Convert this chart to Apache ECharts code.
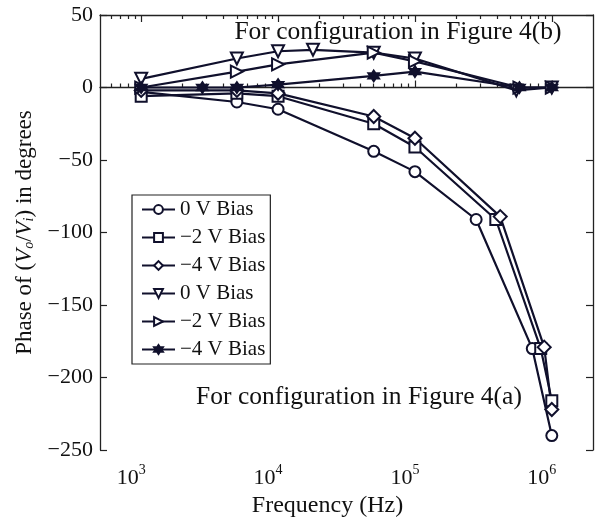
<!DOCTYPE html>
<html>
<head>
<meta charset="utf-8">
<script src="https://cdn.jsdelivr.net/npm/echarts@6/dist/echarts.min.js"></script>
</head>
<body style="margin:0">
<div id="container" style="width:595px;height:523px"></div>
<script>
var ink = '#10102c';
var serif = 'Liberation Serif';

// frequency (Hz) and phase (degrees)
// configuration of Figure 4(a)
var freqA0 = [1e3, 5e3, 1e4, 5e4, 1e5, 2.8e5, 7.2e5, 1e6];
var phaseA0 = [-3, -10, -15, -44, -58, -91, -180, -240];
var freqA2 = [1e3, 5e3, 1e4, 5e4, 1e5, 3.9e5, 8.3e5, 1e6];
var phaseA2 = [-6, -4, -6, -25, -41, -91, -180, -216];
var freqA4 = [1e3, 5e3, 1e4, 5e4, 1e5, 4.2e5, 8.8e5, 1e6];
var phaseA4 = [-2, -2, -4, -20, -35, -89, -179, -222];
// configuration of Figure 4(b)
var freqB0 = [1e3, 5e3, 1e4, 1.8e4, 5e4, 1e5, 5.5e5, 1e6];
var phaseB0 = [6, 20, 25, 26, 24, 20, -2, 0];
var freqB2 = [1e3, 5e3, 1e4, 5e4, 1e5, 5.8e5, 1e6];
var phaseB2 = [0, 11, 16, 24, 18, 0, 0];
var freqB4 = [1e3, 2.8e3, 5e3, 1e4, 5e4, 1e5, 5.8e5, 1e6];
var phaseB4 = [0, 0, 0, 2, 8, 11, 0, 0];

var seriesNames = ['0 V Bias (a)', '\u22122 V Bias (a)', '\u22124 V Bias (a)',
                   '0 V Bias (b)', '\u22122 V Bias (b)', '\u22124 V Bias (b)'];
var decadeExps = [3, 4, 5, 6];

function lg(f) { return Math.log10(f); }
function pts(fs, vs) {
    return fs.map(function (f, i) { return [lg(f), vs[i]]; });
}

var xMin = lg(500), xMax = lg(2e6);
var minors = [];
for (var e = 2; e <= 6; e++) {
    for (var k = 2; k <= 9; k++) {
        var t = lg(k * Math.pow(10, e));
        if (t > xMin + 1e-6 && t < xMax - 1e-6) minors.push(t);
    }
}

var axisLine = { show: true, lineStyle: { color: '#222', width: 1.3 } };

function xAx(pos, ticks, len, labels, line) {
    return {
        type: 'value', position: pos, min: xMin, max: xMax,
        axisLine: line ? axisLine : { show: false },
        splitLine: { show: false },
        axisTick: { show: true, inside: true, length: len, customValues: ticks,
                    lineStyle: { color: '#222', width: 1.2 } },
        axisLabel: labels ? {
            show: true, customValues: decadeExps, margin: 13,
            padding: [0, 20, 0, 0],
            formatter: function (v) { return '{b|10}{s|' + v + '}'; },
            rich: {
                b: { fontFamily: serif, fontSize: 22, color: '#111', lineHeight: 26, verticalAlign: 'bottom' },
                s: { fontFamily: serif, fontSize: 14, color: '#111', lineHeight: 16, verticalAlign: 'top' }
            }
        } : { show: false }
    };
}

var xAxes = [
    xAx('bottom', decadeExps, 7, true, true),
    xAx('bottom', minors, 4, false, false),
    xAx('top', decadeExps, 7, false, true),
    xAx('top', minors, 4, false, false)
];
xAxes[0].name = 'Frequency (Hz)';
xAxes[0].nameLocation = 'middle';
xAxes[0].nameGap = 42;
xAxes[0].nameTextStyle = { fontFamily: serif, fontSize: 24, color: '#111', padding: [0, 38, 0, 0] };

function yAx(pos, labels) {
    return {
        type: 'value', position: pos, min: -250, max: 50, interval: 50,
        axisLine: axisLine, splitLine: { show: false },
        axisTick: { show: true, inside: true, length: 7, lineStyle: { color: '#222', width: 1.2 } },
        axisLabel: labels ? {
            show: true, margin: 7, fontFamily: serif, fontSize: 22, color: '#111',
            formatter: function (v) { return String(v).replace('-', '\u2212'); }
        } : { show: false }
    };
}
var yAxes = [yAx('left', true), yAx('right', false)];
yAxes[0].name = '{t|Phase of (}{i|V}{sub|o}{t|/}{i|V}{sub|i}{t|) in degrees}';
yAxes[0].nameLocation = 'middle';
yAxes[0].nameGap = 62;
yAxes[0].nameTextStyle = {
    rich: {
        t: { fontFamily: serif, fontSize: 23, color: '#111', lineHeight: 24, verticalAlign: 'middle' },
        i: { fontFamily: serif, fontSize: 23, fontStyle: 'italic', color: '#111', lineHeight: 24, verticalAlign: 'middle' },
        sub: { fontFamily: serif, fontSize: 14, fontStyle: 'italic', color: '#111', lineHeight: 14, verticalAlign: 'bottom' }
    }
};

var star = 'path://M0,-10L2.9,-5L8.66,-5L5.8,0L8.66,5L2.9,5L0,10L-2.9,5L-8.66,5L-5.8,0L-8.66,-5L-2.9,-5Z';
var symbols = [
    ['emptyCircle', 0, 11], ['emptyRect', 0, 11], ['emptyDiamond', 0, 13],
    ['emptyTriangle', 180, 12], ['emptyTriangle', -90, 12], [star, 0, 11]
];
var dataSets = [
    pts(freqA0, phaseA0), pts(freqA2, phaseA2), pts(freqA4, phaseA4),
    pts(freqB0, phaseB0), pts(freqB2, phaseB2), pts(freqB4, phaseB4)
];

var series = dataSets.map(function (d, i) {
    return {
        name: seriesNames[i], type: 'line', data: d,
        xAxisIndex: 0, yAxisIndex: 0,
        symbol: symbols[i][0], symbolRotate: symbols[i][1], symbolSize: symbols[i][2],
        lineStyle: { color: ink, width: 2.2 },
        itemStyle: { color: ink, borderColor: ink, borderWidth: 1.8 },
        animation: false
    };
});

var chart = echarts.init(document.getElementById('container'));
chart.setOption({
    backgroundColor: '#fff',
    animation: false,
    grid: { left: 100, right: 2, top: 15, bottom: 71 },
    xAxis: xAxes,
    yAxis: yAxes,
    legend: {
        orient: 'vertical', left: 132, top: 195,
        padding: [4, 5, 4, 9], itemGap: 7, itemWidth: 33, itemHeight: 11,
        borderColor: '#222', borderWidth: 1.2,
        backgroundColor: '#fff',
        data: seriesNames,
        formatter: function (n) { return n.replace(/ \(.\)$/, ''); },
        textStyle: { fontFamily: serif, fontSize: 21, color: '#111' }
    },
    graphic: [
        { type: 'text', x: 398, y: 32,
          style: { text: 'For configuration in Figure 4(b)', fontFamily: serif, fontSize: 25.5,
                   fill: '#111', textAlign: 'center', textVerticalAlign: 'middle' } },
        { type: 'text', x: 359, y: 397,
          style: { text: 'For configuration in Figure 4(a)', fontFamily: serif, fontSize: 25.5,
                   fill: '#111', textAlign: 'center', textVerticalAlign: 'middle' } }
    ],
    series: series
});
</script>
</body>
</html>
